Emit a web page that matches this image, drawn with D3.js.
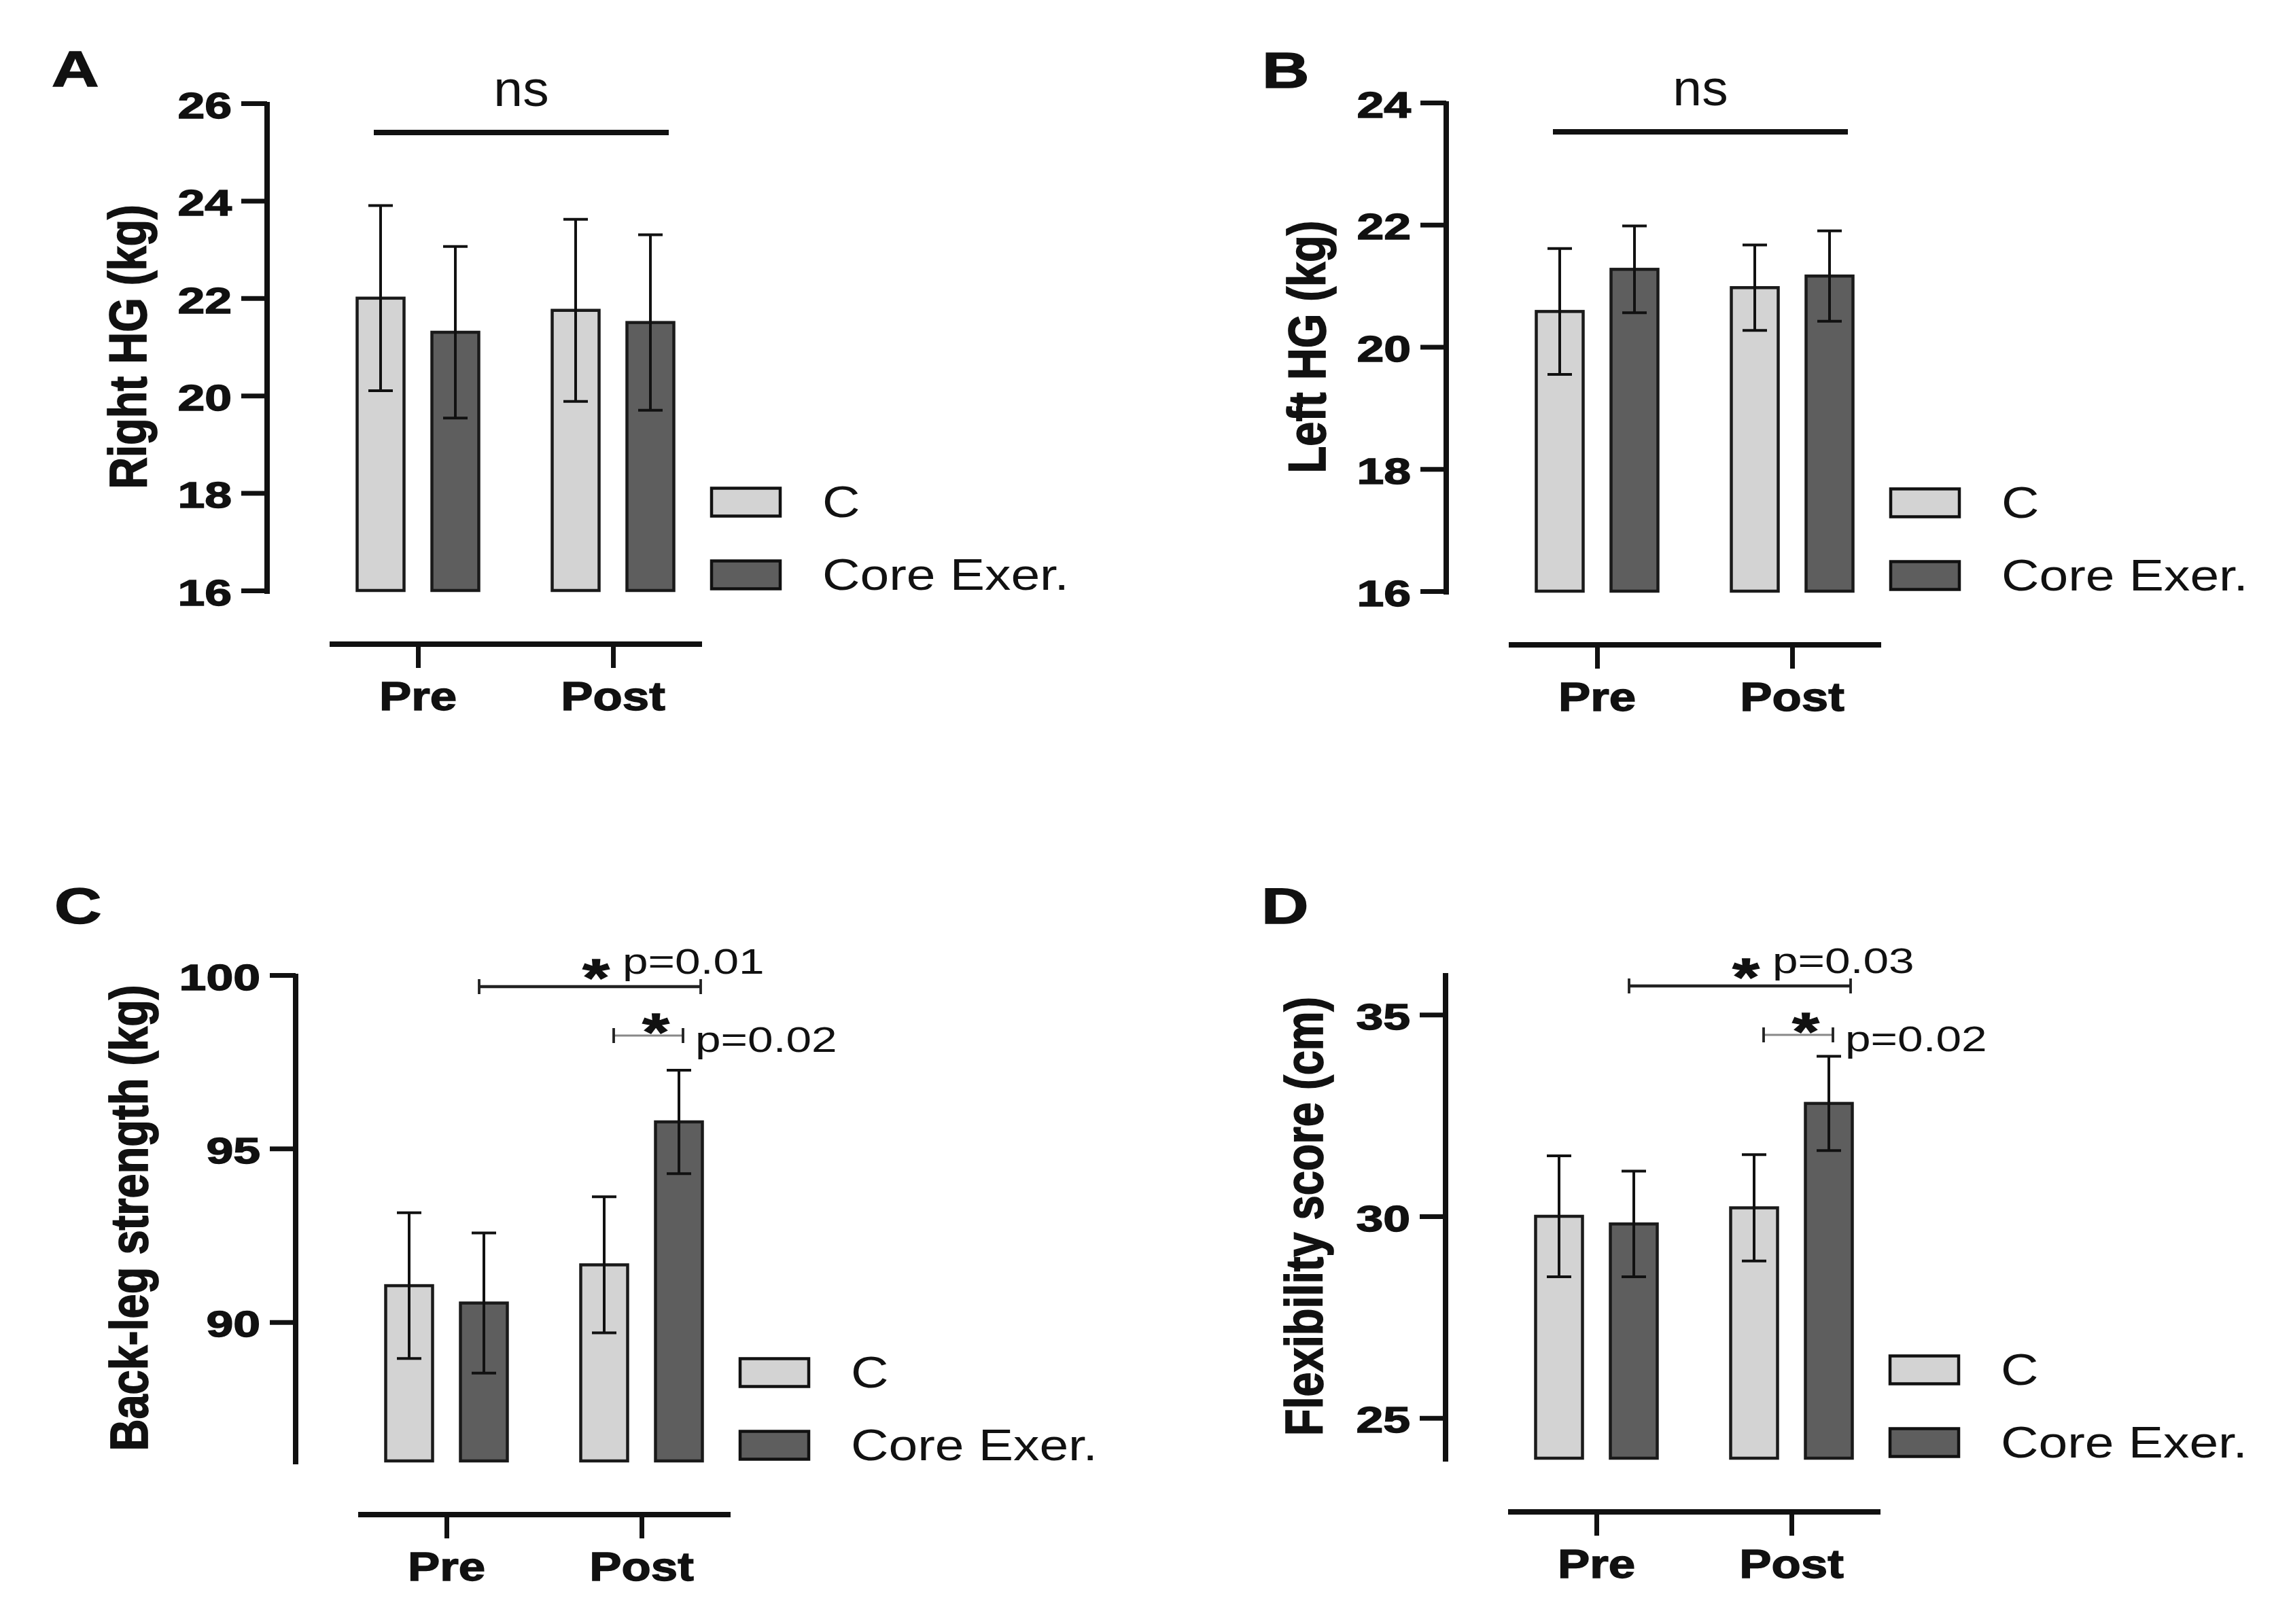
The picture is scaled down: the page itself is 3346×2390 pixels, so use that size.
<!DOCTYPE html>
<meta charset="UTF-8">
<style>
  body { margin: 0; background: #fff; }
  svg text { font-family: "Liberation Sans", Arial, sans-serif; fill: #111; }
  svg text.heavy { stroke: #111; stroke-width: 1.4px; }
</style>
<body>
<script src="https://d3js.org/d3.v7.min.js"></script>
<script>

// categories
var groups = ["Pre", "Post"];
var series = ["C", "Core Exer."];

// A: right hand grip (mean, sd) for C and Core Exer.
var rightMeanC = [22.0, 21.75], rightSdC = [1.9, 1.87];
var rightMeanX = [21.3, 21.5], rightSdX = [1.76, 1.8];
var rightTicks = [16, 18, 20, 22, 24, 26];

// B: left hand grip
var leftMeanC = [20.58, 20.97], leftSdC = [1.03, 0.7];
var leftMeanX = [21.27, 21.16], leftSdX = [0.71, 0.74];
var leftTicks = [16, 18, 20, 22, 24];

// C: back-leg strength
var backMeanC = [91.05, 91.65], backSdC = [2.1, 1.96];
var backMeanX = [90.55, 95.77], backSdX = [2.02, 1.49];
var backTicks = [90, 95, 100];

// D: flexibility
var flexMeanC = [30.0, 30.21], flexSdC = [1.5, 1.32];
var flexMeanX = [29.81, 32.8], flexSdX = [1.31, 1.17];
var flexTicks = [25, 30, 35];

var backPvalues = ["p=0.01", "p=0.02"];
var flexPvalues = ["p=0.03", "p=0.02"];

var colors = {"C": "#d3d3d3", "Core Exer.": "#5e5e5e"};

var panels = [
  {letter: "A", title: "Right HG (kg)", mC: rightMeanC, sC: rightSdC, mX: rightMeanX, sX: rightSdX,
   ticks: rightTicks, domain: [16, 26], axisX: 393, top: 152, bottom: 869, labelX: 195, lx: 76, ly: 127, ns: true},
  {letter: "B", title: "Left HG (kg)", mC: leftMeanC, sC: leftSdC, mX: leftMeanX, sX: leftSdX,
   ticks: leftTicks, domain: [16, 24], axisX: 2128, top: 151, bottom: 870, labelX: 1930, lx: 1857, ly: 129, ns: true},
  {letter: "C", title: "Back-leg strength (kg)", mC: backMeanC, sC: backSdC, mX: backMeanX, sX: backSdX,
   ticks: backTicks, domain: [86, 100], axisX: 435, top: 1435, bottom: 2150, labelX: 197, lx: 80, ly: 1359, p: backPvalues},
  {letter: "D", title: "Flexibility score (cm)", mC: flexMeanC, sC: flexSdC, mX: flexMeanX, sX: flexSdX,
   ticks: flexTicks, domain: [24, 36], axisX: 2127, top: 1434, bottom: 2146, labelX: 1926, lx: 1856, ly: 1359, p: flexPvalues}
];

var svg = d3.select("body").append("svg")
    .attr("width", 3346)
    .attr("height", 2390);

// text that is stretched horizontally like the picture
function sText(g, str, x, y, sx, size, weight, anchor) {
  return g.append("text")
      .attr("class", weight === "bold" ? "heavy" : null)
      .attr("transform", "translate(" + x + "," + y + ") scale(" + sx + ",1)")
      .attr("text-anchor", anchor || "start")
      .style("font-size", size + "px")
      .style("font-weight", weight || "normal")
      .text(str);
}

panels.forEach(function(p) {
  var g = svg.append("g");

  var y = d3.scaleLinear().domain(p.domain).range([p.bottom, p.top]);
  var x = d3.scalePoint().domain(groups).range([p.axisX + 222, p.axisX + 509]);
  var xs = d3.scalePoint().domain(series).range([-55, 55]);
  var barW = 69;
  function bc(grp, ser) { return x(grp) + xs(ser); }

  var rows = [];
  groups.forEach(function(grp, i) {
    rows.push({grp: grp, ser: "C", m: p.mC[i], sd: p.sC[i]});
    rows.push({grp: grp, ser: "Core Exer.", m: p.mX[i], sd: p.sX[i]});
  });

  // panel letter
  sText(g, p.letter, p.lx, p.ly, 1.3, 74, "bold");

  // y axis
  var yAxis = g.append("g")
      .attr("transform", "translate(" + p.axisX + ",0)")
      .call(d3.axisLeft(y).tickValues(p.ticks).tickSize(38).tickSizeOuter(0).tickFormat(d3.format("d")));
  yAxis.select(".domain")
      .attr("d", "M0," + (y(p.domain[1]) - 2) + "V" + (y(p.domain[0]) + 5))
      .attr("stroke", "#111").attr("stroke-width", 8);
  yAxis.selectAll(".tick line").attr("stroke", "#111").attr("stroke-width", 7);
  yAxis.selectAll(".tick text")
      .attr("class", "heavy")
      .attr("x", 0).attr("dy", "0.4em")
      .attr("transform", "translate(-52,0) scale(1.35,1)")
      .style("font-size", "53px").style("font-weight", "bold")
      .attr("fill", "#111");

  // y title
  g.append("text")
      .attr("class", "heavy")
      .attr("transform", "translate(" + p.labelX + "," + ((p.top + p.bottom) / 2) + ") scale(1.2,1) rotate(-90)")
      .attr("text-anchor", "middle")
      .attr("dy", "0.26em")
      .style("font-size", "65px")
      .style("font-weight", "bold")
      .text(p.title);

  // x axis (separate line below)
  var xAxisY = p.bottom + 79;
  var xAxis = g.append("g")
      .attr("transform", "translate(0," + xAxisY + ")")
      .call(d3.axisBottom(x).tickSize(35).tickSizeOuter(0));
  xAxis.select(".domain")
      .attr("d", "M" + (p.axisX + 92) + ",0H" + (p.axisX + 640))
      .attr("stroke", "#111").attr("stroke-width", 8);
  xAxis.selectAll(".tick line").attr("stroke", "#111").attr("stroke-width", 7);
  xAxis.selectAll(".tick text").remove();
  groups.forEach(function(grp) {
    sText(g, grp, x(grp), p.bottom + 176, 1.2, 59, "bold", "middle");
  });

  // bars
  g.selectAll("rect.bar").data(rows).enter().append("rect")
      .attr("class", "bar")
      .attr("x", function(d) { return bc(d.grp, d.ser) - barW / 2; })
      .attr("width", barW)
      .attr("y", function(d) { return y(d.m); })
      .attr("height", function(d) { return y(p.domain[0]) - y(d.m); })
      .attr("fill", function(d) { return colors[d.ser]; })
      .attr("stroke", "#1a1a1a")
      .attr("stroke-width", 4.5);

  // error bars
  var eb = g.selectAll("g.err").data(rows).enter().append("g").attr("class", "err")
      .attr("stroke", "#111").attr("stroke-width", 4);
  eb.append("line")
      .attr("x1", function(d) { return bc(d.grp, d.ser); })
      .attr("x2", function(d) { return bc(d.grp, d.ser); })
      .attr("y1", function(d) { return y(d.m + d.sd); })
      .attr("y2", function(d) { return y(d.m - d.sd); });
  [1, -1].forEach(function(s) {
    eb.append("line")
        .attr("x1", function(d) { return bc(d.grp, d.ser) - 18; })
        .attr("x2", function(d) { return bc(d.grp, d.ser) + 18; })
        .attr("y1", function(d) { return y(d.m + s * d.sd); })
        .attr("y2", function(d) { return y(d.m + s * d.sd); });
  });

  // legend
  var lgX = p.axisX + 654;
  series.forEach(function(ser, i) {
    var cy = i === 0 ? p.bottom - 130 : p.bottom - 23;
    g.append("rect")
        .attr("x", lgX).attr("y", cy - 20.5)
        .attr("width", 101).attr("height", 41)
        .attr("fill", colors[ser])
        .attr("stroke", "#111").attr("stroke-width", 4.5);
    sText(g, ser, lgX + 163, cy + 22, 1.2, 64, "normal");
  });

  // ns line for hand grip panels
  if (p.ns) {
    var nx1 = bc("Pre", "C") - 10, nx2 = bc("Post", "Core Exer.") + 27, ny = p.top + 43;
    g.append("line")
        .attr("x1", nx1).attr("x2", nx2).attr("y1", ny).attr("y2", ny)
        .attr("stroke", "#111").attr("stroke-width", 8);
    sText(g, "ns", (nx1 + nx2) / 2, ny - 39, 1.04, 74, "normal", "middle");
  }

  // significance brackets
  if (p.p) {
    var brackets = [
      {x1: bc("Pre", "Core Exer.") - 7, x2: bc("Post", "Core Exer.") + 32, y: p.top + 17,
       line: "#222", w: 4.5, starDy: 14, starDx: 9, label: p.p[0], long: true},
      {x1: bc("Post", "C") + 14, x2: bc("Post", "Core Exer.") + 6, y: p.top + 89,
       line: "#888", w: 3, starDy: 21.5, starDx: 11, label: p.p[1], long: false}
    ];
    brackets.forEach(function(b) {
      g.append("line")
          .attr("x1", b.x1).attr("x2", b.x2).attr("y1", b.y).attr("y2", b.y)
          .attr("stroke", b.line).attr("stroke-width", b.w);
      [b.x1, b.x2].forEach(function(cx) {
        g.append("line")
            .attr("x1", cx).attr("x2", cx).attr("y1", b.y - 11).attr("y2", b.y + 11)
            .attr("stroke", "#222").attr("stroke-width", 3.8);
      });
      var sx = (b.x1 + b.x2) / 2 + b.starDx;
      sText(g, "*", sx, b.y + b.starDy, 1.3, 78, "bold", "middle");
      if (b.long) {
        sText(g, b.label, sx + 39, b.y - 19, 1.3, 52, "normal");
      } else {
        sText(g, b.label, b.x2 + 18, b.y + 24, 1.3, 52, "normal");
      }
    });
  }
});

</script>
</body>
